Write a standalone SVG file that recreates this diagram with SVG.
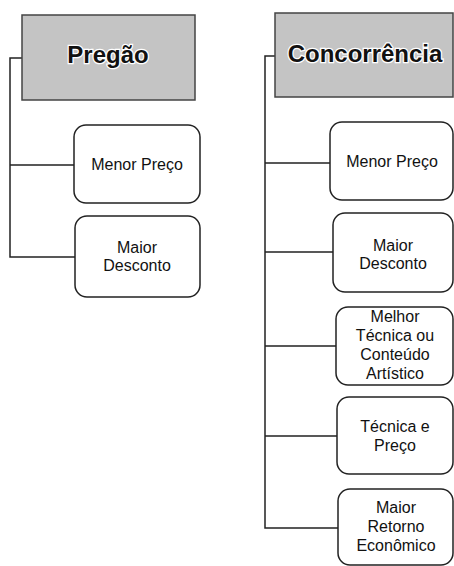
<svg xmlns="http://www.w3.org/2000/svg" width="454" height="566" viewBox="0 0 454 566">
<style>
.title{fill:#c4c4c4;stroke:#444;stroke-width:1.5}
.box{fill:#fff;stroke:#222;stroke-width:1.5}
.tt{font-family:"Liberation Sans",Arial,sans-serif;font-weight:bold;font-size:24px;fill:#111;stroke:#fff;stroke-width:2.5;paint-order:stroke;text-anchor:middle}
.t{font-family:"Liberation Sans",Arial,sans-serif;font-size:16px;fill:#111;text-anchor:middle}
.c{fill:none;stroke:#222;stroke-width:1.5}
</style>
<rect width="454" height="566" fill="#fff"/>
<g id="connectors">
<path class="c" d="M22 58H10V257H75M10 165H74"/>
<path class="c" d="M275 56H265V528H338M265 163H330M265 252H333M265 346H336M265 436H337"/>
</g>
<g id="pregao">
<rect class="title" x="22" y="15" width="173" height="85"/>
<text class="tt" x="108" y="63">Pregão</text>
</g>
<g id="p-menor-preco">
<rect class="box" x="74" y="125" width="126" height="78" rx="12"/>
<text class="t" x="137" y="170">Menor Preço</text>
</g>
<g id="p-maior-desconto">
<rect class="box" x="75" y="216" width="125" height="81" rx="12"/>
<text class="t" x="137" y="253">Maior</text>
<text class="t" x="137" y="271">Desconto</text>
</g>
<g id="concorrencia">
<rect class="title" x="275" y="13" width="178" height="84"/>
<text class="tt" x="365" y="62">Concorrência</text>
</g>
<g id="c-menor-preco">
<rect class="box" x="330" y="122" width="123" height="78" rx="12"/>
<text class="t" x="392" y="167">Menor Preço</text>
</g>
<g id="c-maior-desconto">
<rect class="box" x="333" y="213" width="120" height="79" rx="12"/>
<text class="t" x="393" y="251">Maior</text>
<text class="t" x="393" y="269">Desconto</text>
</g>
<g id="c-melhor-tecnica">
<rect class="box" x="336" y="307" width="117" height="78" rx="12"/>
<text class="t" x="395" y="322">Melhor</text>
<text class="t" x="395" y="341">Técnica ou</text>
<text class="t" x="395" y="360">Conteúdo</text>
<text class="t" x="395" y="379">Artístico</text>
</g>
<g id="c-tecnica-preco">
<rect class="box" x="337" y="397" width="116" height="77" rx="12"/>
<text class="t" x="395" y="432">Técnica e</text>
<text class="t" x="395" y="451">Preço</text>
</g>
<g id="c-maior-retorno">
<rect class="box" x="338" y="489" width="115" height="76" rx="12"/>
<text class="t" x="396" y="513">Maior</text>
<text class="t" x="396" y="532">Retorno</text>
<text class="t" x="396" y="551">Econômico</text>
</g>
</svg>
